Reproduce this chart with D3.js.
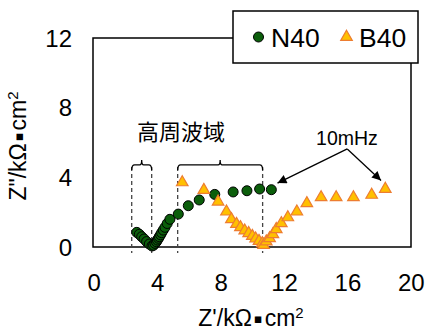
<!DOCTYPE html>
<html>
<head>
<meta charset="utf-8">
<script src="https://cdn.jsdelivr.net/npm/d3@7"></script>
<style>
  body { margin: 0; background: #fff; }
  svg { display: block; font-family: "Liberation Sans", Arial, sans-serif; }
</style>
</head>
<body>
<div id="viz"></div>
<script>
const WIDTH = 428, HEIGHT = 332;

// Nyquist data, kOhm*cm2
const n40X = [2.68, 2.84, 2.99, 3.14, 3.30, 3.47, 3.64, 3.74, 3.83, 3.92, 3.98, 4.05, 4.10, 4.18, 4.25, 4.35, 4.46, 4.60, 4.77, 5.30, 5.93, 6.62, 7.60, 8.76, 9.63, 10.43, 11.17];
const n40Y = [0.84, 0.73, 0.59, 0.46, 0.31, 0.17, 0.06, 0.10, 0.21, 0.30, 0.40, 0.50, 0.59, 0.70, 0.82, 0.97, 1.13, 1.35, 1.59, 1.89, 2.37, 2.70, 3.02, 3.16, 3.23, 3.33, 3.29];
const b40X = [5.55, 6.91, 7.81, 8.34, 8.65, 8.97, 9.22, 9.49, 9.74, 9.97, 10.18, 10.39, 10.60, 10.68, 10.85, 11.06, 11.27, 11.48, 11.80, 12.21, 12.78, 13.41, 14.31, 15.26, 16.35, 17.50, 18.36];
const b40Y = [3.71, 3.27, 2.60, 2.03, 1.59, 1.32, 1.13, 0.94, 0.79, 0.63, 0.48, 0.34, 0.21, 0.11, 0.31, 0.50, 0.73, 1.02, 1.36, 1.70, 2.03, 2.51, 2.85, 2.85, 2.85, 2.99, 3.33];

const xTicks = [0, 4, 8, 12, 16, 20];
const yTicks = [0, 4, 8, 12];
const seriesNames = ["N40", "B40"];

// annotation anchors in data units
const brackets = [[2.36, 3.62], [5.26, 10.62]];
const bracketY = 4.71, dashBottom = -0.35;
const arrowFrom = [15.96, 5.63];
const arrowTo = [[11.56, 3.67], [18.09, 3.82]];

const x = d3.scaleLinear().domain([0, 20]).range([94.3, 411.3]);
const y = d3.scaleLinear().domain([0, 12]).range([247, 38]);

const svg = d3.select("#viz").append("svg")
  .attr("width", WIDTH).attr("height", HEIGHT);

svg.append("defs").append("marker")
  .attr("id", "ah")
  .attr("viewBox", "0 0 10 10")
  .attr("refX", 10).attr("refY", 5)
  .attr("markerWidth", 10).attr("markerHeight", 9)
  .attr("markerUnits", "userSpaceOnUse")
  .attr("orient", "auto")
  .append("path").attr("d", "M0,0 L10,5 L0,10 Z").attr("fill", "#000");

// plot frame
svg.append("rect")
  .attr("x", 93).attr("y", 38)
  .attr("width", 318).attr("height", 209)
  .attr("fill", "none").attr("stroke", "#000").attr("stroke-width", 1.5);

// tick labels
svg.append("g").selectAll("text").data(xTicks).join("text")
  .attr("x", d => x(d)).attr("y", 291)
  .attr("text-anchor", "middle").attr("font-size", 24)
  .text(d => d);
svg.append("g").selectAll("text").data(yTicks).join("text")
  .attr("x", 72).attr("y", d => y(d) + 8.5)
  .attr("text-anchor", "end").attr("font-size", 24)
  .text(d => d);

// axis titles
function unitTitle(sel, lead) {
  sel.append("tspan").text(lead + "/kΩ");
  sel.append("tspan").attr("font-family", "'DejaVu Sans', sans-serif")
    .attr("font-size", 13).attr("dy", -3).attr("dx", 2).text("▪");
  sel.append("tspan").attr("dy", 3).attr("dx", 2).text("cm");
  sel.append("tspan").attr("font-size", 15).attr("dy", -8).text("2");
}
const xt = svg.append("text")
  .attr("x", 251).attr("y", 326)
  .attr("text-anchor", "middle").attr("font-size", 23);
unitTitle(xt, "Z'");

const yt = svg.append("text")
  .attr("transform", `translate(26,146) rotate(-90)`)
  .attr("text-anchor", "middle").attr("font-size", 23);
unitTitle(yt, "Z\"");

// dashed guides + brackets
const ann = svg.append("g");
brackets.forEach(([a, b]) => {
  [a, b].forEach(v => {
    ann.append("line")
      .attr("x1", x(v)).attr("x2", x(v))
      .attr("y1", y(bracketY) + 2).attr("y2", y(dashBottom))
      .attr("stroke", "#444").attr("stroke-width", 1.3)
      .attr("stroke-dasharray", "4,3");
  });
  const x1 = x(a), x2 = x(b), c = (x1 + x2) / 2, yy = y(bracketY);
  ann.append("path")
    .attr("d", `M${x1},${yy + 5} Q${x1},${yy} ${x1 + 3},${yy} L${c - 2},${yy} Q${c},${yy} ${c},${yy - 5} Q${c},${yy} ${c + 2},${yy} L${x2 - 3},${yy} Q${x2},${yy} ${x2},${yy + 5}`)
    .attr("fill", "none").attr("stroke", "#000").attr("stroke-width", 1.3);
});

ann.append("text")
  .attr("x", x(2.69)).attr("y", y(6.14))
  .attr("font-family", "'Noto Sans CJK JP', sans-serif")
  .attr("font-size", 22)
  .text("高周波域");

ann.append("text")
  .attr("x", x(13.99)).attr("y", y(5.86))
  .attr("font-size", 19.5)
  .text("10mHz");

arrowTo.forEach(t => {
  ann.append("line")
    .attr("x1", x(arrowFrom[0])).attr("y1", y(arrowFrom[1]))
    .attr("x2", x(t[0])).attr("y2", y(t[1]))
    .attr("stroke", "#000").attr("stroke-width", 1.3)
    .attr("marker-end", "url(#ah)");
});

// series
const n40 = n40X.map((v, i) => [v, n40Y[i]]);
const b40 = b40X.map((v, i) => [v, b40Y[i]]);
const tri = d3.symbol().type(d3.symbolTriangle).size(58);

svg.append("g").selectAll("circle").data(n40).join("circle")
  .attr("cx", d => x(d[0])).attr("cy", d => y(d[1]))
  .attr("r", 5)
  .attr("fill", "#0b5e0b").attr("stroke", "#000").attr("stroke-width", 1);

svg.append("g").selectAll("path").data(b40).join("path")
  .attr("d", tri)
  .attr("transform", d => `translate(${x(d[0])},${y(d[1])})`)
  .attr("fill", "#ffc000").attr("stroke", "#ed7d31").attr("stroke-width", 1.2);

// legend
const lg = svg.append("g");
lg.append("rect")
  .attr("x", 233).attr("y", 11).attr("width", 185).attr("height", 52)
  .attr("fill", "#fff").attr("stroke", "#000").attr("stroke-width", 1.5);
lg.append("circle")
  .attr("cx", 258.5).attr("cy", 37).attr("r", 5)
  .attr("fill", "#0b5e0b").attr("stroke", "#000").attr("stroke-width", 1);
lg.append("path")
  .attr("d", tri)
  .attr("transform", "translate(346.5,37)")
  .attr("fill", "#ffc000").attr("stroke", "#ed7d31").attr("stroke-width", 1.2);
lg.selectAll("text.lab").data(seriesNames).join("text")
  .attr("class", "lab")
  .attr("x", (d, i) => i === 0 ? 271 : 359)
  .attr("y", 46.5)
  .attr("font-size", 26.5)
  .text(d => d);
</script>
</body>
</html>
